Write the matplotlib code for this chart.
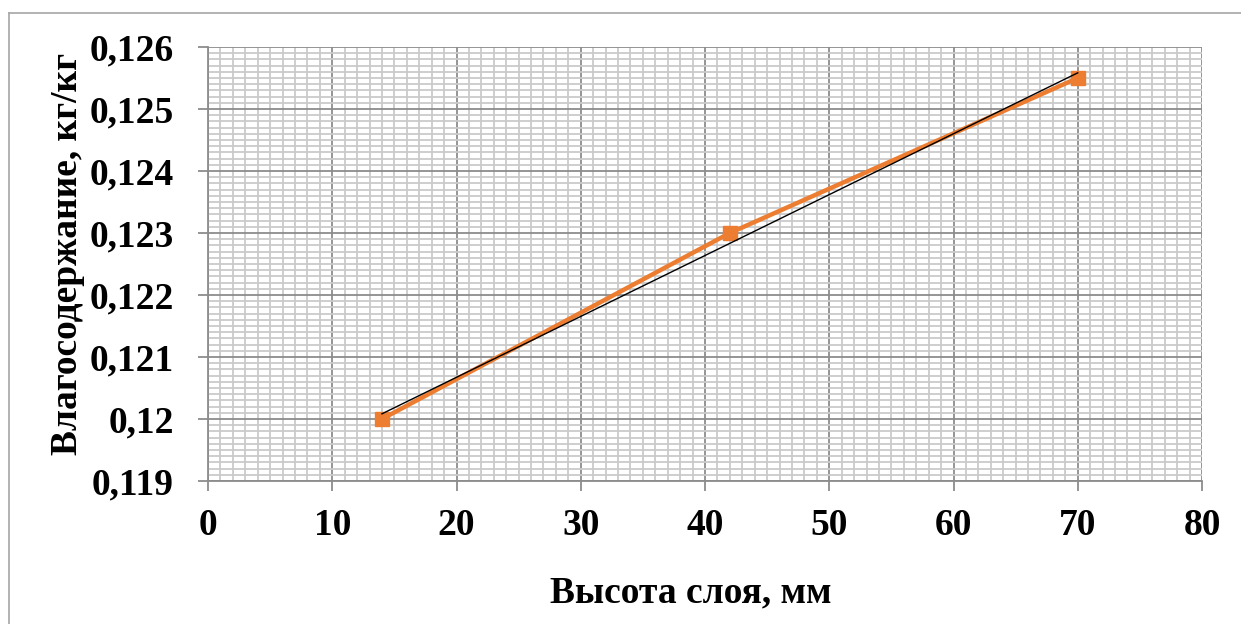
import matplotlib
matplotlib.use("Agg")
import matplotlib.pyplot as plt
import numpy as np
from matplotlib.lines import Line2D
from matplotlib.ticker import MultipleLocator

# ───────────── data ───────────── #
layer_height = [14, 42, 70]                  # mm
moisture = [0.120, 0.123, 0.1255]            # kg/kg

x_ticks = [0, 10, 20, 30, 40, 50, 60, 70, 80]
y_ticks = [0.119, 0.120, 0.121, 0.122, 0.123, 0.124, 0.125, 0.126]
y_tick_labels = ["0,119", "0,12", "0,121", "0,122", "0,123", "0,124", "0,125", "0,126"]

x_title = "Высота слоя, мм"
y_title = "Влагосодержание, кг/кг"

# ───────────── style ───────────── #
plt.rcParams["font.family"] = ["Liberation Serif", "DejaVu Serif"]
plt.rcParams["font.weight"] = "bold"

ORANGE = "#ED7D31"
MAJOR = "#8C8C8C"
MINOR = "#CACACA"
FS = 27

W, H = 1241, 624
fig = plt.figure(figsize=(W / 100, H / 100), dpi=100)
ax = fig.add_axes([208 / W, 1 - 481 / H, (1202 - 208) / W, (481 - 47) / H])

# chart-area border (only left and top visible in the crop)
bx, by = 9 / W, 1 - 13 / H
fig.add_artist(Line2D([bx, bx], [0, by], color="#A6A6A6", lw=1.2))
fig.add_artist(Line2D([bx, 1], [by, by], color="#A6A6A6", lw=1.2))

ax.set_xlim(0, 80)
ax.set_ylim(0.119, 0.126)
ax.set_xticks(x_ticks)
ax.set_xticklabels([str(t) for t in x_ticks])
ax.set_yticks(y_ticks)
ax.set_yticklabels(y_tick_labels)
ax.xaxis.set_minor_locator(MultipleLocator(1))
ax.yaxis.set_minor_locator(MultipleLocator(0.0001))

ax.grid(which="minor", color=MINOR, lw=1.3, zorder=0)
ax.grid(which="major", color=MAJOR, lw=1.3, zorder=0)
ax.set_axisbelow(True)

for s in ("top", "right"):
    ax.spines[s].set_visible(False)
for s in ("left", "bottom"):
    ax.spines[s].set_color(MAJOR)
    ax.spines[s].set_linewidth(1.3)

ax.tick_params(which="major", direction="out", length=7, width=1.3, color=MAJOR,
               labelsize=FS)
ax.tick_params(axis="x", pad=12.5)
ax.tick_params(axis="y", pad=17.5)
ax.tick_params(which="minor", length=0)
for lbl in ax.get_xticklabels() + ax.get_yticklabels():
    lbl.set_fontweight("bold")

# data series
ax.plot(layer_height, moisture, color=ORANGE, lw=3.2, marker="s", ms=10,
        zorder=3, clip_on=False)

# linear trendline
k, b = np.polyfit(layer_height, moisture, 1)
xt = np.array([layer_height[0], layer_height[-1]])
ax.plot(xt, k * xt + b, color="black", lw=1, zorder=4, clip_on=False)

ax.set_xlabel(x_title, fontsize=FS, fontweight="bold")
ax.set_ylabel(y_title, fontsize=FS, fontweight="bold")
ax.xaxis.set_label_coords(0.4854, -0.2788)
ax.xaxis.label.set_va("baseline")
ax.yaxis.set_label_coords(-0.1318, 0.523)
ax.yaxis.label.set_rotation_mode("anchor")
ax.yaxis.label.set_va("baseline")
ax.yaxis.label.set_ha("center")

fig.savefig("out.png", dpi=100)
